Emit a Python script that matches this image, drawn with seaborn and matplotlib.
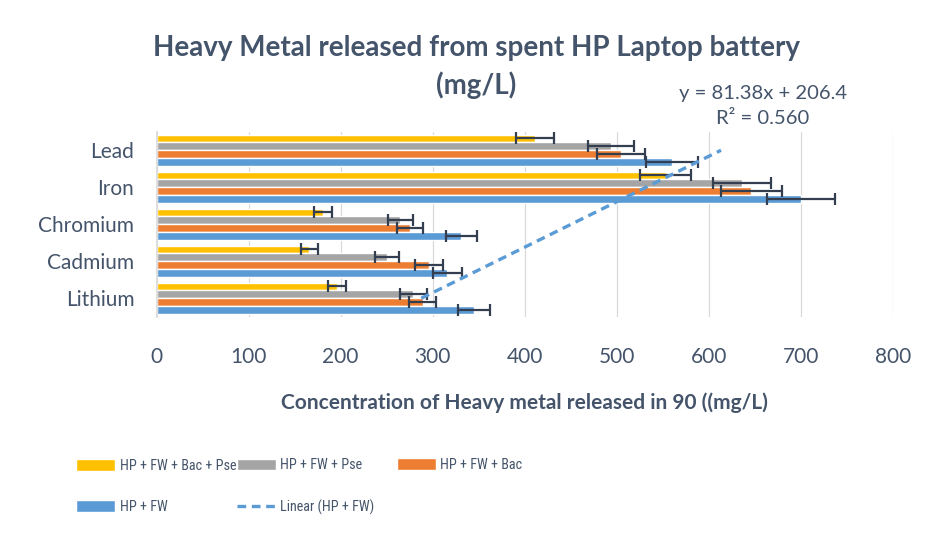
import numpy as np
import pandas as pd
import seaborn as sns
import matplotlib.pyplot as plt
from matplotlib import font_manager

# categories as shown top -> bottom
metals = ["Lead", "Iron", "Chromium", "Cadmium", "Lithium"]

# values (mg/L), same order as metals
hp_fw = [560, 700, 331, 316, 345]
hp_fw_bac = [505, 646, 275, 296, 289]
hp_fw_pse = [494, 636, 265, 250, 279]
hp_fw_bac_pse = [411, 553, 181, 166, 196]

err_fw = [28, 37, 17, 16, 17]
err_fw_bac = [26, 33, 14, 15, 15]
err_fw_pse = [25, 32, 14, 13, 15]
err_fw_bac_pse = [21, 28, 10, 9, 10]

series = ["HP + FW + Bac + Pse", "HP + FW + Pse", "HP + FW + Bac", "HP + FW"]
colors = ["#FFC000", "#A5A5A5", "#ED7D31", "#5B9BD5"]
values = [hp_fw_bac_pse, hp_fw_pse, hp_fw_bac, hp_fw]
errors = [err_fw_bac_pse, err_fw_pse, err_fw_bac, err_fw]

text_col = "#44546A"

sns.set_theme(style="white")
plt.rcParams["font.family"] = ["Lato", "DejaVu Sans"]

# legend text is narrow in the original; use a condensed face if one exists
installed = {f.name for f in font_manager.fontManager.ttflist}
legend_font = {"family": ["Lato"], "size": 9.4}
for cand in ["Roboto Condensed", "Open Sans Condensed", "Liberation Sans Narrow"]:
    if cand in installed:
        legend_font = {"family": [cand], "size": 10.2}
        break

df = pd.DataFrame({
    "metal": np.tile(metals, len(series)),
    "series": np.repeat(series, len(metals)),
    "value": np.concatenate(values),
})

fig = plt.figure(figsize=(9.25, 5.36), dpi=100)
ax = fig.add_axes([0.1692, 0.409, 0.7962, 0.3452])

sns.barplot(data=df, y="metal", x="value", hue="series", order=metals,
            hue_order=series, palette=colors, orient="h", width=0.85,
            errorbar=None, saturation=1, legend=False, ax=ax)
bar_conts = list(ax.containers)

# error bars on each bar end
for cont, errs in zip(bar_conts, errors):
    for bar, e in zip(cont, errs):
        ax.errorbar(bar.get_width(), bar.get_y() + bar.get_height() / 2,
                    xerr=e, fmt="none", ecolor="#333F50", elinewidth=1.6,
                    capsize=4, capthick=1.6, zorder=4)

# linear trendline of HP + FW (Excel x = 1..5 from Lithium up to Lead)
xs = np.arange(1, len(metals) + 1)
fw_excel = np.array(hp_fw[::-1])
slope, icpt = np.polyfit(xs, fw_excel, 1)
trend_pos = len(metals) - xs  # seaborn position of each category
trend, = ax.plot(slope * xs + icpt, trend_pos, color="#5B9BD5", lw=2.4,
                 linestyle=(0, (2.6, 1.7)), zorder=5)

ax.set_xlim(0, 800)
ax.set_ylim(4.5, -0.5)
ax.set_xticks(range(0, 801, 100))
ax.xaxis.grid(True, color="#D9D9D9", lw=0.9)
ax.set_axisbelow(True)
for s in ["top", "right", "bottom"]:
    ax.spines[s].set_visible(False)
ax.spines["left"].set_color("#D9D9D9")
ax.tick_params(axis="x", length=0, pad=22, labelsize=15, labelcolor=text_col)
ax.tick_params(axis="y", length=0, pad=16, labelsize=15, labelcolor=text_col)
ax.set_ylabel("")
ax.set_xlabel("Concentration of Heavy metal released in 90 ((mg/L)",
              fontsize=15, fontweight="bold", color=text_col, labelpad=18)

fig.text(0.515, 1 - 48 / 536, "Heavy Metal released from spent HP Laptop battery",
         ha="center", va="center", fontsize=20, fontweight="bold", color=text_col)
fig.text(0.515, 1 - 85 / 536, "(mg/L)",
         ha="center", va="center", fontsize=20, fontweight="bold", color=text_col)

fig.text(763 / 925, 1 - 93 / 536, "y = 81.38x + 206.4", ha="center", va="center",
         fontsize=14.6, color=text_col)
fig.text(763 / 925, 1 - 118 / 536, "R² = 0.560", ha="center", va="center",
         fontsize=14.6, color=text_col)

# legend laid out in fixed-width columns like Excel
fs_px = legend_font["size"] * 100 / 72
handles = bar_conts + [trend]
labels = series + ["Linear (HP + FW)"]
cols = [[0, 3], [1, 4], [2]]
col_x = [76, 237, 397]
for idx, cx in zip(cols, col_x):
    cy = 486.5 if len(idx) == 2 else 465
    leg = fig.legend([handles[i] for i in idx], [labels[i] for i in idx],
                     loc="center left",
                     bbox_to_anchor=(cx / 925, 1 - cy / 536),
                     frameon=False, prop=legend_font,
                     handlelength=38.5 / fs_px, handleheight=12.7 / fs_px,
                     handletextpad=5 / fs_px, labelspacing=27 / fs_px,
                     borderpad=0, borderaxespad=0)
    for t in leg.get_texts():
        t.set_color(text_col)

fig.savefig("out.png", dpi=100)
